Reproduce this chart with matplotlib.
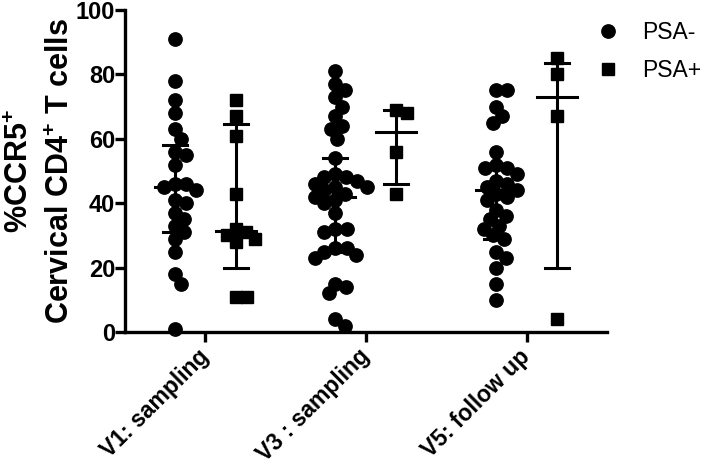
import numpy as np
import matplotlib
matplotlib.use("Agg")
import matplotlib.pyplot as plt

plt.rcParams['font.family'] = ['Liberation Sans', 'DejaVu Sans']
plt.rcParams['mathtext.fontset'] = 'custom'
plt.rcParams['mathtext.rm'] = 'Liberation Sans:bold'
plt.rcParams['mathtext.default'] = 'rm'

# values
visits = ['V1: sampling', 'V3 : sampling', 'V5: follow up']

psa_neg = [
    [91, 78, 72, 68, 63, 60, 56, 55, 52, 46, 46, 45, 44, 41, 40, 37, 35, 33, 31, 29, 25, 18, 15, 1],
    [81, 77, 75, 73, 70, 67, 64, 63, 60, 54, 49, 48, 48, 47, 46, 45, 45, 44, 43, 42, 41, 40, 37,
     32, 32, 31, 26, 26, 25, 24, 23, 15, 14, 12, 4, 2],
    [75, 75, 70, 67, 65, 56, 52, 51, 51, 49, 47, 46, 45, 44, 43, 42, 41, 38, 36, 35, 33, 32, 30,
     29, 25, 23, 20, 15, 10],
]
psa_pos = [
    [72, 67, 61, 43, 32, 31, 30, 29, 28, 11, 11],
    [69, 68, 56, 43],
    [85, 80, 67, 4],
]

# median and interquartile range as drawn
neg_med = [45, 42, 44]
neg_q1 = [31, 25, 29]
neg_q3 = [58, 54, 52]
pos_med = [31.5, 62, 73]
pos_q1 = [20, 46, 20]
pos_q3 = [64.5, 69, 83.5]

fig = plt.figure(figsize=(7.09, 4.69), dpi=100)
ax = fig.add_axes([0.176, 0.292, 0.68, 0.687])
ax.set_xlim(-0.5, 2.5)
ax.set_ylim(0, 100)

# pixel scale used for swarm layout
px_x = 161.0
px_y = 3.22


def swarm(vals, diam):
    placed = []
    xs = []
    for v in vals:
        y = v * px_y
        cands = [0.0]
        for (px, py) in placed:
            dy = y - py
            if abs(dy) < diam:
                dx = np.sqrt(diam ** 2 - dy ** 2)
                cands += [px + dx, px - dx]
        cands.sort(key=abs)
        for c in cands:
            ok = all((c - px) ** 2 + (y - py) ** 2 >= diam ** 2 - 1e-6 for (px, py) in placed)
            if ok:
                placed.append((c, y))
                xs.append(c)
                break
    return np.array(xs) / px_x


off = 0.19
for i in range(3):
    xn = i - off + swarm(psa_neg[i], 11.5)
    xp = i + off + swarm(psa_pos[i], 11.0)
    ax.plot(xn, psa_neg[i], 'o', color='black', ms=9.6, mec='black',
            label='PSA-' if i == 0 else None, clip_on=False, zorder=3)
    ax.plot(xp, psa_pos[i], 's', color='black', ms=8.5, mec='black',
            label='PSA+' if i == 0 else None, clip_on=False, zorder=3)

    for xc, med, lo, hi in [(i - off, neg_med[i], neg_q1[i], neg_q3[i]),
                            (i + off, pos_med[i], pos_q1[i], pos_q3[i])]:
        ax.plot([xc, xc], [lo, hi], color='black', lw=2.2, zorder=4)
        ax.plot([xc - 0.125, xc + 0.125], [med, med], color='black', lw=2.2, zorder=4)
        for q in (lo, hi):
            ax.plot([xc - 0.075, xc + 0.075], [q, q], color='black', lw=2.2, zorder=4)

ax.set_yticks([0, 20, 40, 60, 80, 100])
ax.set_xticks([0, 1, 2])
ax.set_xticklabels(visits, rotation=45, ha='right', va='center', rotation_mode='anchor',
                   fontsize=16.5, fontweight='bold')
for lab in ax.get_yticklabels():
    lab.set_fontsize(17)
    lab.set_fontweight('bold')

for s in ['top', 'right']:
    ax.spines[s].set_visible(False)
for s in ['left', 'bottom']:
    ax.spines[s].set_linewidth(2.4)
ax.tick_params(width=2.4, length=7)
ax.tick_params(axis='y', pad=0)
ax.tick_params(axis='x', pad=8)

ax.set_ylabel('%CCR5$^{+}$\nCervical CD4$^{+}$ T cells', fontsize=22,
              fontweight='bold', linespacing=1.45, labelpad=0)

fig.legend(loc='upper left', bbox_to_anchor=(0.8415, 0.956), frameon=False,
           fontsize=16.5, handlelength=1.0, handletextpad=1.0,
           labelspacing=0.65, borderaxespad=0, borderpad=0)

fig.savefig('out.png', dpi=100)
